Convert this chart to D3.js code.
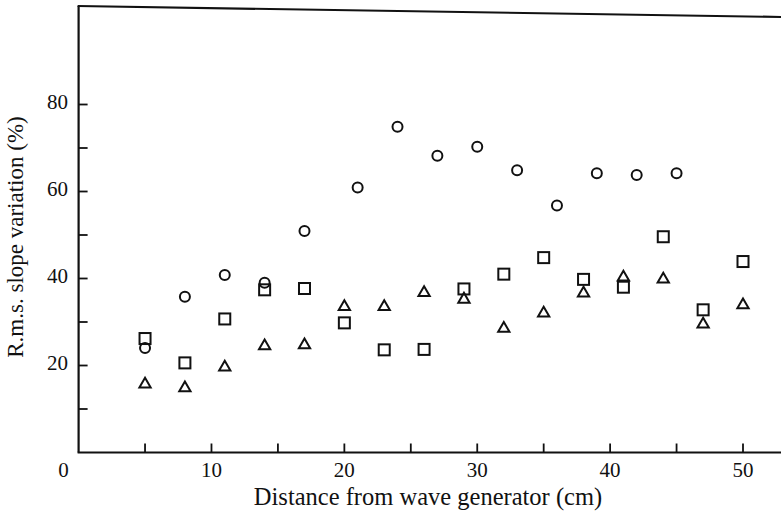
<!DOCTYPE html>
<html lang="en">
<head>
  <meta charset="UTF-8">
  <style type="text/css">
    body {margin:0; background:#fff;}
    svg {font-family: "Liberation Serif", "DejaVu Serif", serif;}
    .tick-label {font-size: 21px; fill: #111;}
    .title {font-size: 23px; fill: #111;}
  </style>
  <title>R.m.s. slope variation</title>
</head>
<body>
  <svg id="chart" width="781" height="513"></svg>

  <script src="https://d3js.org/d3.v7.min.js"></script>
  <script type="text/javascript">
    // distances (cm)
    var circleX = [5, 8, 11, 14, 17, 21, 24, 27, 30, 33, 36, 39, 42, 45];
    var circleY = [24, 35.8, 40.8, 39, 50.9, 60.9, 74.9, 68.2, 70.3, 64.9, 56.8, 64.2, 63.8, 64.2];

    var squareX = [5, 8, 11, 14, 17, 20, 23, 26, 29, 32, 35, 38, 41, 44, 47, 50];
    var squareY = [26.2, 20.6, 30.7, 37.4, 37.7, 29.8, 23.6, 23.7, 37.6, 41.0, 44.8, 39.8, 38.0, 49.6, 32.8, 43.9];

    var triangleX = [5, 8, 11, 14, 17, 20, 23, 26, 29, 32, 35, 38, 41, 44, 47, 50];
    var triangleY = [15.7, 14.8, 19.6, 24.5, 24.7, 33.5, 33.5, 36.7, 35.2, 28.5, 32.0, 36.6, 40.3, 39.8, 29.5, 33.9];

    var xMajor = [10, 20, 30, 40, 50];
    var xMinor = [5, 15, 25, 35, 45];
    var yMajor = [20, 40, 60, 80];
    var yMinor = [10, 30, 50, 70];

    var svg = d3.select("#chart");

    var x = d3.scaleLinear().domain([0, 50]).range([78.6, 743]),
        y = d3.scaleLinear().domain([0, 80]).range([452.5, 104.5]);

    var x0 = x(0), y0 = y(0);
    var tickLen = 9;

    // frame: left axis, bottom axis, top edge (slightly tilted like the print)
    svg.append("line")
      .attr("x1", x0).attr("y1", 6).attr("x2", x0).attr("y2", y0)
      .attr("stroke", "#111").attr("stroke-width", 2.2);
    svg.append("line")
      .attr("x1", x0 - 1).attr("y1", y0).attr("x2", 781).attr("y2", y0)
      .attr("stroke", "#111").attr("stroke-width", 2.2);
    svg.append("line")
      .attr("x1", x0 - 1).attr("y1", 6).attr("x2", 781).attr("y2", 17)
      .attr("stroke", "#111").attr("stroke-width", 2.2);

    // x ticks (pointing up, inside)
    svg.selectAll(".xtick")
      .data(xMajor.concat(xMinor))
      .enter().append("line")
      .attr("class", "xtick")
      .attr("x1", d => x(d)).attr("x2", d => x(d))
      .attr("y1", y0).attr("y2", y0 - tickLen)
      .attr("stroke", "#111").attr("stroke-width", 1.8);

    svg.selectAll(".xlab")
      .data(xMajor)
      .enter().append("text")
      .attr("class", "xlab tick-label")
      .attr("x", d => x(d))
      .attr("y", 477)
      .attr("text-anchor", "middle")
      .text(d => d);

    // shared origin label
    svg.append("text")
      .attr("class", "tick-label")
      .attr("x", x0 - 15)
      .attr("y", 477)
      .attr("text-anchor", "middle")
      .text("0");

    // y ticks (pointing right, inside)
    svg.selectAll(".ytick")
      .data(yMajor.concat(yMinor))
      .enter().append("line")
      .attr("class", "ytick")
      .attr("x1", x0).attr("x2", x0 + tickLen)
      .attr("y1", d => y(d)).attr("y2", d => y(d))
      .attr("stroke", "#111").attr("stroke-width", 1.8);

    svg.selectAll(".ylab")
      .data(yMajor)
      .enter().append("text")
      .attr("class", "ylab tick-label")
      .attr("x", 68)
      .attr("y", d => y(d) - 3)
      .attr("dy", "0.35em")
      .attr("text-anchor", "end")
      .text(d => d);

    // axis titles
    svg.append("text")
      .attr("class", "title")
      .attr("x", 428)
      .attr("y", 505)
      .attr("text-anchor", "middle")
      .style("font-size", "24.5px")
      .text("Distance from wave generator (cm)");

    svg.append("text")
      .attr("class", "title")
      .attr("transform", "translate(23," + 237 + ") rotate(-90)")
      .attr("text-anchor", "middle")
      .text("R.m.s. slope variation (%)");

    // circles
    svg.selectAll(".circ")
      .data(circleX.map((d, i) => ({x: d, y: circleY[i]})))
      .enter().append("circle")
      .attr("class", "circ")
      .attr("cx", d => x(d.x))
      .attr("cy", d => y(d.y))
      .attr("r", 5)
      .attr("fill", "none")
      .attr("stroke", "#111")
      .attr("stroke-width", 2);

    // squares
    var sq = 11;
    svg.selectAll(".sq")
      .data(squareX.map((d, i) => ({x: d, y: squareY[i]})))
      .enter().append("rect")
      .attr("class", "sq")
      .attr("x", d => x(d.x) - sq / 2)
      .attr("y", d => y(d.y) - sq / 2)
      .attr("width", sq)
      .attr("height", sq)
      .attr("fill", "none")
      .attr("stroke", "#111")
      .attr("stroke-width", 2);

    // triangles
    var tri = d3.symbol().type(d3.symbolTriangle).size(55);
    svg.selectAll(".tri")
      .data(triangleX.map((d, i) => ({x: d, y: triangleY[i]})))
      .enter().append("path")
      .attr("class", "tri")
      .attr("d", tri)
      .attr("transform", d => "translate(" + x(d.x) + "," + y(d.y) + ")")
      .attr("fill", "none")
      .attr("stroke", "#111")
      .attr("stroke-width", 2);
  </script>
</body>
</html>
